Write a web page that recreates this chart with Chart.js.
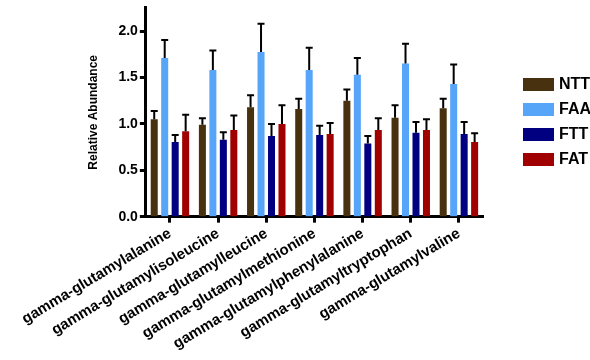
<!DOCTYPE html>
<html>
<head>
<meta charset="utf-8">
<script src="https://cdn.jsdelivr.net/npm/chart.js@4.4.0/dist/chart.umd.min.js"></script>
<style>
  html, body { margin: 0; padding: 0; background: #fff; }
  #wrap { width: 590px; height: 360px; }
</style>
</head>
<body>
<div id="wrap"><canvas id="chart" width="590" height="360"></canvas></div>
<script>
const categories = [
  "gamma-glutamylalanine",
  "gamma-glutamylisoleucine",
  "gamma-glutamylleucine",
  "gamma-glutamylmethionine",
  "gamma-glutamylphenylalanine",
  "gamma-glutamyltryptophan",
  "gamma-glutamylvaline"
];
const seriesNames = ["NTT", "FAA", "FTT", "FAT"];
const ntt = [1.05, 0.99, 1.18, 1.16, 1.25, 1.065, 1.17];
const nttErr = [0.09, 0.07, 0.13, 0.11, 0.12, 0.135, 0.10];
const faa = [1.71, 1.58, 1.775, 1.58, 1.53, 1.65, 1.43];
const faaErr = [0.195, 0.21, 0.305, 0.24, 0.18, 0.215, 0.21];
const ftt = [0.805, 0.83, 0.87, 0.88, 0.79, 0.905, 0.89];
const fttErr = [0.075, 0.08, 0.13, 0.10, 0.08, 0.115, 0.13];
const fat = [0.92, 0.935, 1.00, 0.89, 0.935, 0.935, 0.805];
const fatErr = [0.18, 0.155, 0.20, 0.12, 0.125, 0.115, 0.095];
const yTicks = [0, 0.5, 1.0, 1.5, 2.0];

const colors = ["#48310f", "#57a5f9", "#000080", "#a00000"];
const values = [ntt, faa, ftt, fat];
const errors = [nttErr, faaErr, fttErr, fatErr];
const FONT = "'Liberation Sans', Arial, Helvetica, sans-serif";

// upward error bars, drawn from the scale
const errorBars = {
  id: "errorBars",
  afterDatasetsDraw(chart) {
    const ctx = chart.ctx;
    const y = chart.scales.y;
    ctx.save();
    ctx.strokeStyle = "#000";
    ctx.lineWidth = 2;
    chart.data.datasets.forEach((ds, i) => {
      const meta = chart.getDatasetMeta(i);
      meta.data.forEach((bar, j) => {
        const top = y.getPixelForValue(ds.data[j] + ds.err[j]);
        ctx.beginPath();
        ctx.moveTo(bar.x, bar.y);
        ctx.lineTo(bar.x, top);
        ctx.moveTo(bar.x - 3.5, top);
        ctx.lineTo(bar.x + 3.5, top);
        ctx.stroke();
      });
    });
    ctx.restore();
  }
};

// legend on the right, like the original graph
const sideLegend = {
  id: "sideLegend",
  afterDraw(chart) {
    const ctx = chart.ctx;
    ctx.save();
    ctx.font = "bold 16px " + FONT;
    ctx.textBaseline = "middle";
    chart.data.datasets.forEach((ds, i) => {
      const top = 78 + i * 25;
      ctx.fillStyle = ds.backgroundColor;
      ctx.fillRect(523, top, 31, 13);
      ctx.fillStyle = "#000";
      ctx.fillText(ds.label, 559, top + 7);
    });
    ctx.restore();
  }
};

new Chart(document.getElementById("chart"), {
  type: "bar",
  data: {
    labels: categories,
    datasets: seriesNames.map((name, i) => ({
      label: name,
      data: values[i],
      err: errors[i],
      backgroundColor: colors[i],
      borderWidth: 0,
      categoryPercentage: 0.87,
      barPercentage: 0.67
    }))
  },
  options: {
    responsive: false,
    animation: false,
    devicePixelRatio: 1,
    layout: { padding: { left: 86, right: 107, top: 1, bottom: 5 } },
    plugins: {
      legend: { display: false },
      tooltip: { enabled: false }
    },
    scales: {
      x: {
        border: { display: true, color: "#000", width: 3 },
        grid: {
          display: true, drawOnChartArea: false, offset: false,
          drawTicks: true, tickLength: 6, tickWidth: 3, tickColor: "#000"
        },
        ticks: {
          color: "#000", font: { family: FONT, size: 15, weight: "bold" },
          minRotation: 31, maxRotation: 31, padding: 2, autoSkip: false
        }
      },
      y: {
        min: 0,
        max: 2.25,
        border: { display: true, color: "#000", width: 3 },
        grid: {
          display: true, drawOnChartArea: false,
          drawTicks: true, tickLength: 6, tickWidth: 3, tickColor: "#000"
        },
        afterBuildTicks: s => { s.ticks = yTicks.map(v => ({ value: v })); },
        ticks: {
          color: "#000", padding: 2,
          font: { family: FONT, size: 14, weight: "bold", lineHeight: 0.85 },
          callback: v => Number(v).toFixed(1)
        },
        title: {
          display: true, text: "Relative Abundance", color: "#000",
          font: { family: FONT, size: 12, weight: "bold" },
          padding: { top: 0, bottom: 16 }
        }
      }
    }
  },
  plugins: [errorBars, sideLegend]
});
</script>
</body>
</html>
